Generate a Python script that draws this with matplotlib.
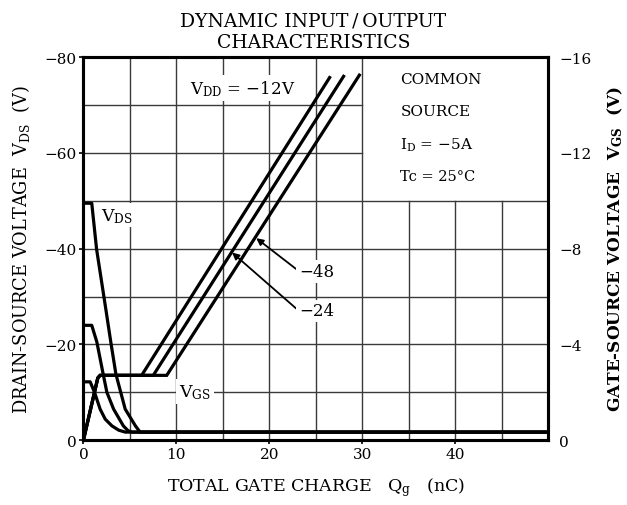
import matplotlib
matplotlib.use("Agg")
import matplotlib.pyplot as plt

plt.rcParams['font.family'] = ['DejaVu Serif']
plt.rcParams['mathtext.fontset'] = 'custom'
plt.rcParams['mathtext.rm'] = 'DejaVu Serif'
plt.rcParams['mathtext.it'] = 'DejaVu Serif'
plt.rcParams['mathtext.bf'] = 'DejaVu Serif:bold'

MINUS = "\u2212"

# ---- data ----
vds_q_12 = [0, 0.73, 1.2, 1.8, 2.35, 3.07, 3.8, 4.5, 50]
vds_v_12 = [-12.2, -12.2, -10.0, -6.5, -4.4, -3.0, -2.1, -1.7, -1.7]
vds_q_24 = [0, 0.9, 1.45, 2.17, 2.53, 3.25, 4.3, 4.8, 5.2, 50]
vds_v_24 = [-24.0, -24.0, -20.5, -13.4, -10.0, -6.5, -3.0, -2.0, -1.7, -1.7]
vds_q_48 = [0, 0.9, 1.42, 2.42, 2.95, 3.5, 4.5, 5.6, 6.1, 50]
vds_v_48 = [-49.5, -49.5, -39.9, -27.3, -20.5, -13.8, -6.5, -3.0, -1.7, -1.7]

vgs_q_12 = [0, 1.55, 1.8, 6.27, 26.5]
vgs_v_12 = [0, -2.6, -2.71, -2.71, -15.15]
vgs_q_24 = [0, 1.55, 1.8, 7.52, 28.0]
vgs_v_24 = [0, -2.6, -2.71, -2.71, -15.2]
vgs_q_48 = [0, 1.55, 1.8, 8.97, 29.7]
vgs_v_48 = [0, -2.6, -2.71, -2.71, -15.25]

x_ticks = [0, 10, 20, 30, 40]
x_ticklabels = ["0", "10", "20", "30", "40"]
yl_ticks = [0, -20, -40, -60, -80]
yl_ticklabels = ["0", MINUS + "20", MINUS + "40", MINUS + "60", MINUS + "80"]
yr_ticks = [0, -4, -8, -12, -16]
yr_ticklabels = ["0", MINUS + "4", MINUS + "8", MINUS + "12", MINUS + "16"]

fig = plt.figure(figsize=(6.27, 5.06), dpi=100)
ax = fig.add_axes([0.133, 0.128, 0.741, 0.757])
ax.set_xlim(0, 50)
ax.set_ylim(0, -80)

# grid (manual, with blank box top-right)
gc = '#3a3a3a'
for xv in range(5, 50, 5):
    top = -80 if xv <= 30 else -50
    ax.plot([xv, xv], [0, top], color=gc, lw=1.0, zorder=1)
for yv in range(-10, -80, -10):
    right = 50 if yv >= -50 else 30
    ax.plot([0, right], [yv, yv], color=gc, lw=1.0, zorder=1)

lw = 2.3
for q, v in [(vds_q_12, vds_v_12), (vds_q_24, vds_v_24), (vds_q_48, vds_v_48)]:
    ax.plot(q, v, color='black', lw=lw, zorder=5, solid_joinstyle='round')

for s in ax.spines.values():
    s.set_linewidth(2.2)

ax.set_xticks(x_ticks)
ax.set_xticklabels(x_ticklabels, fontsize=11)
ax.set_yticks(yl_ticks)
ax.set_yticklabels(yl_ticklabels, fontsize=11)
ax.tick_params(axis='both', direction='out', length=3, width=1.2, pad=2)

ax2 = ax.twinx()
ax2.set_ylim(0, -16)
ax2.set_yticks(yr_ticks)
ax2.set_yticklabels(yr_ticklabels, fontsize=11)
ax2.tick_params(axis='y', direction='out', length=0, pad=8)
for s in ax2.spines.values():
    s.set_linewidth(2.2)
for q, v in [(vgs_q_12, vgs_v_12), (vgs_q_24, vgs_v_24), (vgs_q_48, vgs_v_48)]:
    ax2.plot(q, v, color='black', lw=lw, zorder=5, solid_joinstyle='miter')

box = dict(facecolor='white', edgecolor='none', pad=2)
ax.text(1.9, -47.0, r"V$_{\mathrm{DS}}$", fontsize=12.5, va='center', ha='left', bbox=box, zorder=3)
ax.text(10.3, -10.2, r"V$_{\mathrm{GS}}$", fontsize=12.5, va='center', ha='left', bbox=box, zorder=3)
ax.text(11.5, -73.6, r"V$_{\mathrm{DD}}$" + " = " + MINUS + "12V", fontsize=12, va='center', ha='left', bbox=box, zorder=3)

ax.text(34.1, -75.4, "COMMON", fontsize=11, va='center', ha='left', zorder=3)
ax.text(34.1, -68.7, "SOURCE", fontsize=11, va='center', ha='left', zorder=3)
ax.text(34.1, -61.8, r"I$_{\mathrm{D}}$" + " = " + MINUS + "5A", fontsize=11, va='center', ha='left', zorder=3)
ax.text(34.1, -55.1, "Tc = 25\u00b0C", fontsize=10.5, va='center', ha='left', zorder=3)

ax.annotate(MINUS + "48", xy=(18.6, -42.2), xytext=(23.2, -35.3), fontsize=12,
            va='center', ha='left', bbox=box, zorder=3,
            arrowprops=dict(arrowstyle='-|>', color='black', lw=1.3, shrinkA=0, shrinkB=0,
                            mutation_scale=10, relpos=(0, 0.5)))
ax.annotate(MINUS + "24", xy=(16.0, -39.2), xytext=(23.2, -27.0), fontsize=12,
            va='center', ha='left', bbox=box, zorder=3,
            arrowprops=dict(arrowstyle='-|>', color='black', lw=1.3, shrinkA=0, shrinkB=0,
                            mutation_scale=10, relpos=(0, 0.5)))

fig.text(0.5, 0.958, "DYNAMIC INPUT\u2009/\u2009OUTPUT", ha='center', va='center', fontsize=13.5)
fig.text(0.5, 0.915, "CHARACTERISTICS", ha='center', va='center', fontsize=13.5)

ax.set_xlabel(r"TOTAL GATE CHARGE   Q$_{\mathrm{g}}$   (nC)", fontsize=12.5, labelpad=10)
ax.set_ylabel(r"DRAIN-SOURCE VOLTAGE  V$_{\mathrm{DS}}$  (V)", fontsize=12.8, labelpad=9)
ax2.set_ylabel(r"GATE-SOURCE VOLTAGE  V$_{\mathbf{GS}}$  (V)", fontsize=12.2, fontweight='bold', labelpad=10)

fig.savefig("out.png", dpi=100)
